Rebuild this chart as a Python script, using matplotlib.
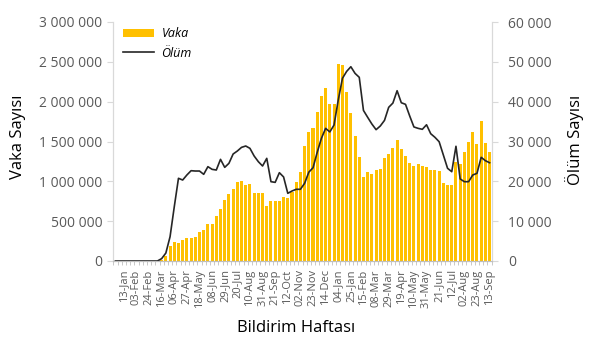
import matplotlib
matplotlib.use("Agg")
import matplotlib.pyplot as plt
import numpy as np
from matplotlib.ticker import FuncFormatter, FixedLocator

plt.rcParams['font.family'] = ['Open Sans', 'DejaVu Sans']

# Weekly notifications, 30-Dec-2019 .. 13-Sep-2021 (90 weeks)
vaka = [
    0, 0, 0, 0, 0, 0, 0, 0, 0, 0,
    0, 8000, 60000, 185000, 242000, 232000, 264000, 285000, 287000, 297000,
    360000, 389000, 460000, 465000, 565000, 650000, 766000, 841000, 910000, 996000,
    1000000, 954000, 964000, 858000, 855000, 858000, 690000, 757000, 757000, 749000,
    803000, 793000, 862000, 996000, 1119000, 1440000, 1623000, 1670000, 1870000, 2071000,
    2175000, 1965000, 1965000, 2473000, 2458000, 2125000, 1860000, 1569000, 1302000, 1051000,
    1113000, 1088000, 1142000, 1159000, 1297000, 1339000, 1414000, 1519000, 1406000, 1322000,
    1234000, 1192000, 1213000, 1192000, 1184000, 1142000, 1142000, 1134000, 983000, 954000,
    954000, 1246000, 1218000, 1372000, 1498000, 1615000, 1469000, 1757000, 1477000, 1372000,
]
olum = [
    0, 0, 0, 0, 0, 0, 0, 0, 0, 0,
    0, 600, 2000, 6100, 13600, 20760, 20330, 21590, 22670, 22590,
    22590, 21760, 23680, 23010, 22840, 25520, 23510, 24520, 26860, 27610,
    28530, 28870, 28280, 26360, 24930, 23850, 25770, 19910, 19740, 22170,
    21100, 16990, 17570, 18000, 18000, 19500, 22300, 23400, 27300, 30800,
    33300, 32400, 34140, 40410, 45860, 47600, 48770, 47100, 46110, 37800,
    36070, 34390, 32970, 33890, 35300, 38580, 39650, 42750, 39730, 39330,
    36400, 33650, 33300, 33060, 34200, 31950, 31050, 29940, 26610, 23270,
    22420, 28800, 20600, 19910, 19910, 21590, 22010, 26030, 25180, 24670,
]
tick_labels = [
    '13-Jan', '03-Feb', '24-Feb', '16-Mar', '06-Apr', '27-Apr', '18-May', '08-Jun',
    '29-Jun', '20-Jul', '10-Aug', '31-Aug', '21-Sep', '12-Oct', '02-Nov', '23-Nov',
    '14-Dec', '04-Jan', '25-Jan', '15-Feb', '08-Mar', '29-Mar', '19-Apr', '10-May',
    '31-May', '21-Jun', '12-Jul', '02-Aug', '23-Aug', '13-Sep',
]

GOLD = '#FFC000'
GREY_TXT = '#595959'
AXIS = '#D9D9D9'

x = np.arange(len(vaka))

fig = plt.figure(figsize=(5.93, 3.45), dpi=100)
ax = fig.add_axes([113.3 / 593, 1 - 261 / 345, 378.4 / 593, 239 / 345])
ax2 = ax.twinx()

ax.bar(x, vaka, width=0.72, color=GOLD, label='Vaka', zorder=2)
ax2.plot(x, olum, color='#262626', linewidth=1.2, label='Ölüm')

ax.set_xlim(-0.5, len(vaka) - 0.5)
ax.set_ylim(0, 3000000)
ax2.set_ylim(0, 60000)
ax.set_yticks(np.arange(0, 3000001, 500000))
ax2.set_yticks(np.arange(0, 60001, 10000))

space_fmt = FuncFormatter(lambda v, p: f"{v:,.0f}".replace(",", " "))
ax.yaxis.set_major_formatter(space_fmt)
ax2.yaxis.set_major_formatter(space_fmt)

# every third week labelled, starting at 13-Jan
ax.xaxis.set_major_locator(FixedLocator(x[2::3]))
ax.set_xticklabels(tick_labels, rotation=90)
ax.xaxis.set_minor_locator(FixedLocator(np.arange(-0.5, len(vaka), 1)))
ax.tick_params(axis='x', which='major', length=0, pad=6, labelsize=8, labelcolor=GREY_TXT)
ax.tick_params(axis='x', which='minor', length=3, color='#BFBFBF')

for a in (ax, ax2):
    a.tick_params(axis='y', length=4, color=AXIS, labelsize=10, labelcolor=GREY_TXT, pad=4)
    a.spines['top'].set_visible(False)
    a.spines['left'].set_color(AXIS)
    a.spines['right'].set_color(AXIS)
    a.spines['bottom'].set_color('#BFBFBF')
ax2.tick_params(axis='y', pad=8)

fig.text(18 / 593, 1 - 137 / 345, 'Vaka Sayısı', rotation=90, ha='center', va='center', fontsize=12)
fig.text(575 / 593, 1 - 140 / 345, 'Ölüm Sayısı', rotation=90, ha='center', va='center', fontsize=12)
fig.text(296 / 593, 1 - 328 / 345, 'Bildirim Haftası', ha='center', va='center', fontsize=12)

h1, l1 = ax.get_legend_handles_labels()
h2, l2 = ax2.get_legend_handles_labels()
leg = ax2.legend(h1 + h2, l1 + l2, loc='upper left', bbox_to_anchor=(-0.005, 1.025),
                 frameon=False, prop={'style': 'italic', 'size': 9},
                 handlelength=2.5, handleheight=0.6, handletextpad=0.6, labelspacing=0.5)

fig.savefig('out.png', dpi=100)
